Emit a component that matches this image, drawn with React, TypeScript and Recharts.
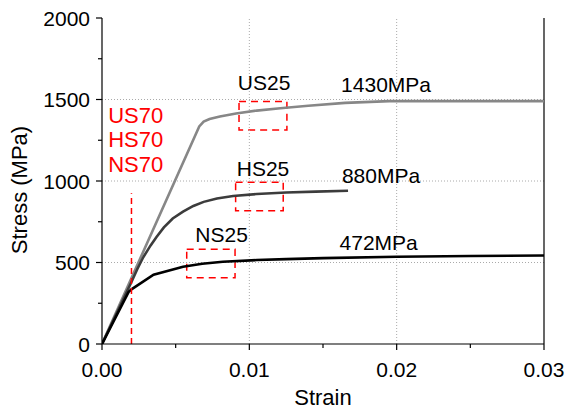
import React from "react";
import {
  LineChart,
  Line,
  XAxis,
  YAxis,
  ReferenceLine,
  ReferenceArea,
  ReferenceDot,
  Label,
} from "recharts";

const FONT = "'Liberation Sans', Arial, sans-serif";

// axis ticks (minor ticks carry no label)
const strainTicks = [0, 0.005, 0.01, 0.015, 0.02, 0.025, 0.03];
const stressTicks = [0, 250, 500, 750, 1000, 1250, 1500, 1750, 2000];
const strainGrid = [0.01, 0.02];
const stressGrid = [500, 1000, 1500];

// US steel
const usStrain = [0, 0.0066, 0.0069, 0.0073, 0.008, 0.0091, 0.0105, 0.0121, 0.014, 0.0165, 0.0195, 0.025, 0.03];
const usStress = [0, 1335, 1364, 1380, 1396, 1414, 1432, 1446, 1462, 1479, 1490, 1490, 1490];

// HS steel
const hsStrain = [0, 0.0015, 0.002, 0.0024, 0.0028, 0.0033, 0.0037, 0.0042, 0.0048, 0.0055, 0.0062, 0.0069, 0.0078, 0.0089, 0.0105, 0.0125, 0.0145, 0.0167];
const hsStress = [0, 285, 380, 460, 532, 605, 656, 715, 770, 812, 847, 872, 893, 908, 920, 929, 935, 940];

// NS steel
const nsStrain = [0, 0.0018, 0.002, 0.0035, 0.0055, 0.0068, 0.0082, 0.0105, 0.0125, 0.015, 0.02, 0.025, 0.03];
const nsStress = [0, 318, 335, 425, 474, 492, 505, 515, 521, 527, 535, 540, 543];

const toPoints = (xs: number[], ys: number[]) => xs.map((x, i) => ({ x, y: ys[i] }));

const yieldStrain = 0.002;
const yieldLineTop = 925;

// dashed boxes: [x1, x2, y1, y2]
const boxes = [
  [0.0093, 0.01255, 1313, 1487],
  [0.00907, 0.0123, 818, 992],
  [0.00575, 0.00903, 407, 581],
];

const notes = [
  { text: "US25", x: 0.011, y: 1604, color: "#000" },
  { text: "1430MPa", x: 0.01928, y: 1595, color: "#000" },
  { text: "HS25", x: 0.01093, y: 1074, color: "#000" },
  { text: "880MPa", x: 0.01894, y: 1031, color: "#000" },
  { text: "NS25", x: 0.00812, y: 671, color: "#000" },
  { text: "472MPa", x: 0.01878, y: 620, color: "#000" },
  { text: "US70", x: 0.00229, y: 1399, color: "#ff0000" },
  { text: "HS70", x: 0.00229, y: 1252, color: "#ff0000" },
  { text: "NS70", x: 0.00229, y: 1101, color: "#ff0000" },
];

const isMajor = (v: number, step: number) => Math.abs(v / step - Math.round(v / step)) < 1e-6;

const XTick = ({ x, y, payload }: any) => {
  const major = isMajor(payload.value, 0.01);
  return (
    <g>
      <line x1={x} y1={y} x2={x} y2={y + (major ? 6 : 4)} stroke="#000" strokeWidth={1.2} />
      {major && (
        <text x={x} y={y + 33} textAnchor="middle" fontSize={21} fontFamily={FONT} fill="#000">
          {payload.value.toFixed(2)}
        </text>
      )}
    </g>
  );
};

const YTick = ({ x, y, payload }: any) => {
  const major = isMajor(payload.value, 500);
  return (
    <g>
      <line x1={x} y1={y} x2={x - (major ? 6 : 4)} y2={y} stroke="#000" strokeWidth={1.2} />
      {major && (
        <text x={x - 12} y={y + 7.5} textAnchor="end" fontSize={21} fontFamily={FONT} fill="#000">
          {payload.value}
        </text>
      )}
    </g>
  );
};

export default function App() {
  return (
    <div style={{ width: 566, height: 410, background: "#fff" }}>
      <style>{"body{margin:0}"}</style>
      <LineChart width={566} height={410} margin={{ top: 18, right: 22, bottom: 26, left: 42 }}>
        <XAxis
          type="number"
          dataKey="x"
          domain={[0, 0.03]}
          ticks={strainTicks}
          tick={<XTick />}
          tickSize={0}
          tickMargin={0}
          height={40}
          stroke="#000"
          strokeWidth={1.2}
          allowDataOverflow
        >
          <Label
            content={() => (
              <text x={323} y={405} textAnchor="middle" fontSize={22} fontFamily={FONT} fill="#000">
                Strain
              </text>
            )}
          />
        </XAxis>
        <YAxis
          type="number"
          dataKey="y"
          domain={[0, 2000]}
          ticks={stressTicks}
          tick={<YTick />}
          tickSize={0}
          tickMargin={0}
          width={60}
          stroke="#000"
          strokeWidth={1.2}
          allowDataOverflow
        >
          <Label
            content={() => (
              <text
                transform="translate(27,190) rotate(-90)"
                textAnchor="middle"
                fontSize={22}
                fontFamily={FONT}
                fill="#000"
              >
                Stress (MPa)
              </text>
            )}
          />
        </YAxis>

        {strainGrid.map((v) => (
          <ReferenceLine key={"gx" + v} x={v} stroke="#aaa" strokeDasharray="1 2" />
        ))}
        {stressGrid.map((v) => (
          <ReferenceLine key={"gy" + v} y={v} stroke="#aaa" strokeDasharray="1 2" />
        ))}
        <ReferenceLine x={0.03} stroke="#000" strokeWidth={1.2} />

        <Line
          data={toPoints(usStrain, usStress)}
          dataKey="y"
          type="linear"
          stroke="#878787"
          strokeWidth={2.6}
          dot={false}
          isAnimationActive={false}
        />
        <Line
          data={toPoints(hsStrain, hsStress)}
          dataKey="y"
          type="linear"
          stroke="#3c3c3c"
          strokeWidth={2.6}
          dot={false}
          isAnimationActive={false}
        />
        <Line
          data={toPoints(nsStrain, nsStress)}
          dataKey="y"
          type="linear"
          stroke="#000"
          strokeWidth={2.6}
          dot={false}
          isAnimationActive={false}
        />

        <ReferenceLine
          segment={[
            { x: yieldStrain, y: 0 },
            { x: yieldStrain, y: yieldLineTop },
          ]}
          stroke="#ff0000"
          strokeWidth={1.5}
          strokeDasharray="6 4"
        />
        {boxes.map(([x1, x2, y1, y2], i) => (
          <ReferenceArea
            key={"box" + i}
            x1={x1}
            x2={x2}
            y1={y1}
            y2={y2}
            fill="none"
            stroke="#ff0000"
            strokeWidth={1.5}
            strokeDasharray="7 5"
          />
        ))}
        {notes.map((n) => (
          <ReferenceDot
            key={n.text}
            x={n.x}
            y={n.y}
            r={0}
            shape={(p: any) => (
              <text
                x={p.cx}
                y={p.cy + 7.5}
                textAnchor="middle"
                fontSize={n.color === "#000" ? 21 : 22}
                fontFamily={FONT}
                fill={n.color}
              >
                {n.text}
              </text>
            )}
          />
        ))}
      </LineChart>
    </div>
  );
}
